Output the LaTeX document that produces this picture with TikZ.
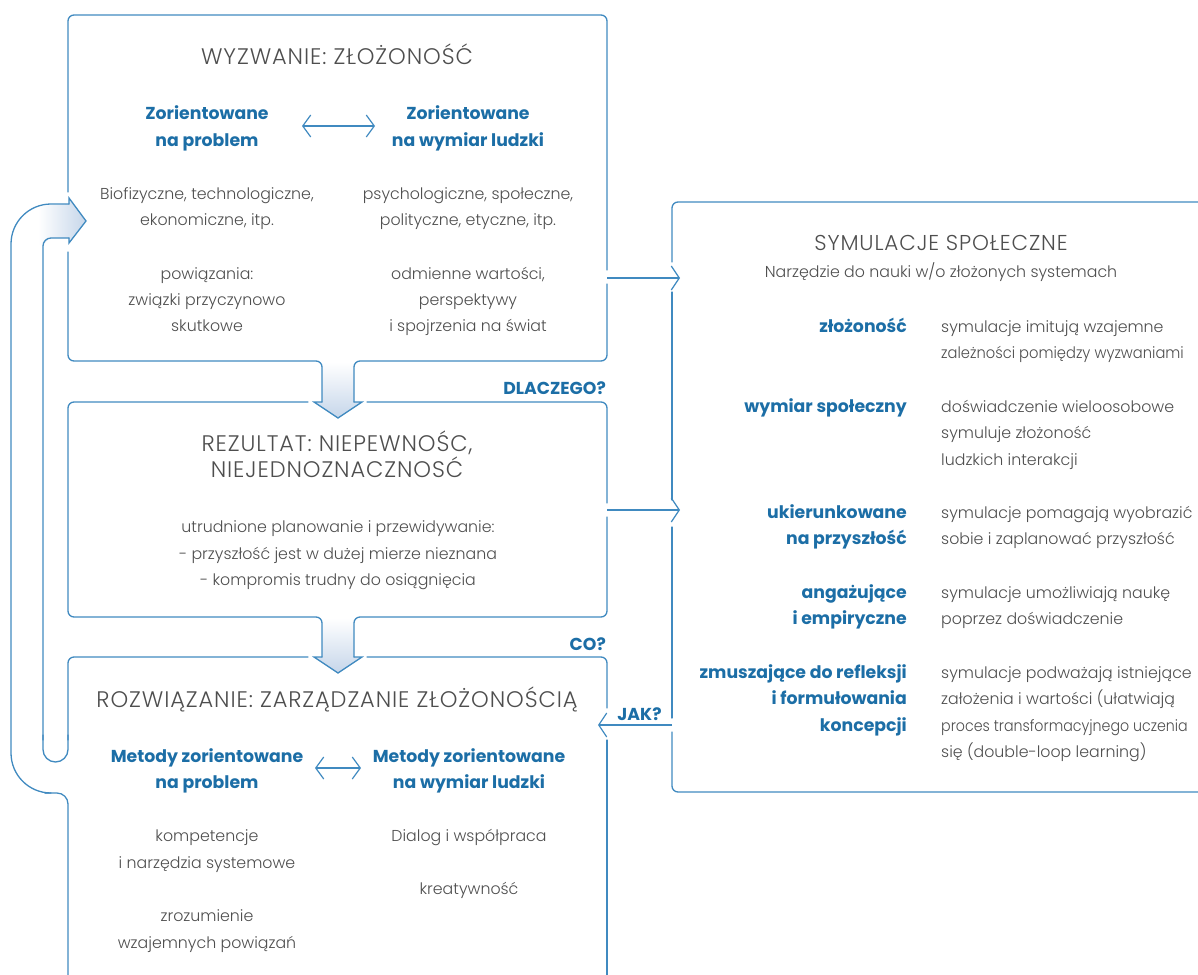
\documentclass[tikz,border=0pt]{standalone}
\usepackage{fontspec}
\setmainfont{Poppins}[UprightFont=* Light, BoldFont=* Bold]
\usetikzlibrary{arrows.meta}
\definecolor{lineblue}{RGB}{64,138,192}
\definecolor{txtblue}{RGB}{28,110,166}
\definecolor{txtgray}{RGB}{78,78,78}
\definecolor{gradblue}{RGB}{198,214,234}
\newcommand{\ttlfont}{\addfontfeatures{LetterSpace=4}\fontsize{22.5}{26}\selectfont}
\newcommand{\subttlfont}{\addfontfeatures{LetterSpace=4}\fontsize{21.5}{24}\selectfont}
\newcommand{\bodyfont}{\fontsize{15.8}{20}\selectfont}
\newcommand{\hdfont}{\bfseries\fontsize{17.3}{20}\selectfont}
\tikzset{
  boxline/.style={draw=lineblue, line width=1.3pt, line cap=round, line join=round},
  rnd/.style={boxline, rounded corners=6pt},
  headline/.style={draw=lineblue, line width=1.3pt, line cap=round, line join=miter},
  conn/.style={draw=lineblue, line width=1.2pt, -{Straight Barb[length=8pt,width=24pt,line width=1.2pt]}},
  dbl/.style={draw=lineblue, line width=1.2pt, {Straight Barb[length=8pt,width=22pt,line width=1.2pt]}-{Straight Barb[length=8pt,width=22pt,line width=1.2pt]}},
  ttl/.style={font=\ttlfont, text=txtgray, inner sep=0pt, anchor=base},
  subttl/.style={font=\subttlfont, text=txtgray, inner sep=0pt, anchor=base},
  body/.style={font=\bodyfont, text=txtgray, inner sep=0pt, anchor=base},
  bodyL/.style={body, anchor=base west},
  narrow/.style={font=\bodyfont\addfontfeatures{FakeStretch=#1}},
  hd/.style={font=\hdfont, text=txtblue, inner sep=0pt, anchor=base},
  hdR/.style={hd, anchor=base east},
}
\begin{document}
\begin{tikzpicture}[x=1pt,y=-1pt]
\useasboundingbox (0,0) rectangle (1198,974);
% ---------- gradient fills ----------
\shade[top color=white, bottom color=gradblue] (322,362) -- (322,402) -- (314,402) -- (338,418) -- (362,402) -- (354,402) -- (354,362) -- cycle;
\shade[top color=white, bottom color=gradblue] (322,618) -- (322,657) -- (314,657) -- (338,673) -- (362,657) -- (354,657) -- (354,618) -- cycle;
\shade[left color=white, right color=gradblue] (38,206) -- (69,204) -- (69,198) -- (86,221) -- (69,243) -- (69,238) -- (50,238) -- (43,245) -- (38,245) -- cycle;
% ---------- box 1 : WYZWANIE ----------
\draw[rnd] (68,252) -- (68,361) -- (322,361) -- (322,402);
\draw[headline] (322,402) -- (314,402) -- (338,418) -- (362,402) -- (354,402);
\draw[rnd] (354,402) -- (354,361) -- (607,361) -- (607,284);
\draw[rnd] (607,270) -- (607,15) -- (68,15) -- (68,192);
% ---------- box 2 : REZULTAT ----------
\draw[rnd] (308,402) -- (68,402) -- (68,617) -- (322,617) -- (322,657);
\draw[headline] (322,657) -- (314,657) -- (338,673) -- (362,657) -- (354,657);
\draw[rnd] (354,657) -- (354,617) -- (607,617) -- (607,517);
\draw[rnd] (607,503) -- (607,402) -- (367,402);
% ---------- box 3 : ROZWIAZANIE with feedback pipe ----------
\draw[rnd] (308,657) -- (68,657) -- (68,740);
\draw[boxline, rounded corners=12.5pt] (68,735) -- (68,762) -- (43,762) -- (43,735);
\draw[boxline, rounded corners=8pt] (43,740) -- (43,238) -- (69,238);
\draw[headline] (69,238) -- (69,243) -- (86,221) -- (69,198) -- (69,204);
\draw[boxline, rounded corners=40pt] (69,204) -- (11,204) -- (11,793) -- (45,793);
\draw[boxline, rounded corners=11pt] (45,793) -- (68,793) -- (68,990);
\draw[rnd] (367,657) -- (607,657) -- (607,708);
\draw[boxline] (607,740) -- (607,990);
% ---------- right box : SYMULACJE ----------
\draw[rnd] (672,262) -- (672,202) -- (1210,202);
\draw[boxline] (672,292) -- (672,500);
\draw[boxline] (672,527) -- (672,718);
\draw[rnd] (672,732) -- (672,792) -- (1210,792);
% ---------- connectors ----------
\coordinate (b1out) at (607,278);
\coordinate (sim1in) at (680,278);
\coordinate (b2out) at (607,510);
\coordinate (sim2in) at (680,510);
\coordinate (simout) at (672,725);
\coordinate (b3in) at (598,725);
\draw[conn] (b1out) -- (sim1in);
\draw[conn] (b2out) -- (sim2in);
\draw[conn] (simout) -- (b3in);
% ---------- box 1 texts ----------
\node[ttl] (t1) at (337,64) {WYZWANIE: ZŁOŻONOŚĆ};
\node[hd] (h1a) at (207,119) {Zorientowane};
\node[hd] (h1b) at (207,146) {na problem};
\node[hd] (h2a) at (468,119) {Zorientowane};
\node[hd] (h2b) at (468,146) {na wymiar ludzki};
\coordinate (d1l) at (302,126);
\coordinate (d1r) at (375,126);
\draw[dbl] (d1l) -- (d1r);
\node[body] (a1) at (207,199) {Biofizyczne, technologiczne,};
\node[body] (a2) at (207,225) {ekonomiczne, itp.};
\node[body] (a3) at (468,199) {psychologiczne, społeczne,};
\node[body] (a4) at (468,225) {polityczne, etyczne, itp.};
\node[body] (a5) at (207,279) {powiązania:};
\node[body] (a6) at (207,305) {związki przyczynowo};
\node[body] (a7) at (207,331) {skutkowe};
\node[body] (a8) at (468,279) {odmienne wartości,};
\node[body] (a9) at (468,305) {perspektywy};
\node[body] (a10) at (468,331) {i spojrzenia na świat};
% ---------- box 2 texts ----------
\node[ttl] (t2a) at (337,451) {REZULTAT: NIEPEWNOŚC,};
\node[ttl] (t2b) at (337,477) {NIEJEDNOZNACZNOSĆ};
\node[body] (r1) at (338,532) {utrudnione planowanie i przewidywanie:};
\node[body] (r2) at (338,559) {- przyszłość jest w dużej mierze nieznana};
\node[body] (r3) at (338,585) {- kompromis trudny do osiągnięcia};
\node[hd, anchor=base east] (lq1) at (606,394) {DLACZEGO?};
% ---------- box 3 texts ----------
\node[ttl] (t3) at (337,707) {ROZWIĄZANIE: ZARZĄDZANIE ZŁOŻONOŚCIĄ};
\node[hd] (m1a) at (207,762) {Metody zorientowane};
\node[hd] (m1b) at (207,788) {na problem};
\node[hd] (m2a) at (469,762) {Metody zorientowane};
\node[hd] (m2b) at (469,788) {na wymiar ludzki};
\coordinate (d2l) at (315,768);
\coordinate (d2r) at (361,768);
\draw[dbl] (d2l) -- (d2r);
\node[body] (s1) at (207,841) {kompetencje};
\node[body] (s2) at (207,868) {i narzędzia systemowe};
\node[body] (s3) at (207,921) {zrozumienie};
\node[body] (s4) at (207,948) {wzajemnych powiązań};
\node[body] (s5) at (469,841) {Dialog i współpraca};
\node[body] (s6) at (469,894) {kreatywność};
\node[hd, anchor=base east] (lq2) at (606,650) {CO?};
\node[hd] (lq3) at (639.5,720) {JAK?};
% ---------- right box texts ----------
\node[subttl] (st) at (941,250) {SYMULACJE SPOŁECZNE};
\node[body] (ss) at (941,277) {Narzędzie do nauki w/o złożonych systemach};
\node[hdR] (k1) at (907,332) {złożoność};
\node[bodyL] (v1a) at (941,332) {symulacje imitują wzajemne};
\node[bodyL, narrow=0.93] (v1b) at (941,358) {zależności pomiędzy wyzwaniami};
\node[hdR] (k2) at (907,412) {wymiar społeczny};
\node[bodyL] (v2a) at (941,412) {doświadczenie wieloosobowe};
\node[bodyL] (v2b) at (941,438) {symuluje złożoność};
\node[bodyL] (v2c) at (941,465) {ludzkich interakcji};
\node[hdR] (k3a) at (907,518) {ukierunkowane};
\node[hdR] (k3b) at (907,544) {na przyszłość};
\node[bodyL] (v3a) at (941,518) {symulacje pomagają wyobrazić};
\node[bodyL] (v3b) at (941,544) {sobie i zaplanować przyszłość};
\node[hdR] (k4a) at (907,598) {angażujące};
\node[hdR] (k4b) at (907,624) {i empiryczne};
\node[bodyL] (v4a) at (941,598) {symulacje umożliwiają naukę};
\node[bodyL] (v4b) at (941,624) {poprzez doświadczenie};
\node[hdR] (k5a) at (907,678) {zmuszające do refleksji};
\node[hdR] (k5b) at (907,704) {i formułowania};
\node[hdR] (k5c) at (907,731) {koncepcji};
\node[bodyL] (v5a) at (941,678) {symulacje podważają istniejące};
\node[bodyL] (v5b) at (941,704) {założenia i wartości (ułatwiają};
\node[bodyL, narrow=0.9] (v5c) at (941,731) {proces transformacyjnego uczenia};
\node[bodyL] (v5d) at (941,757) {się (double-loop learning)};
\end{tikzpicture}
\end{document}
